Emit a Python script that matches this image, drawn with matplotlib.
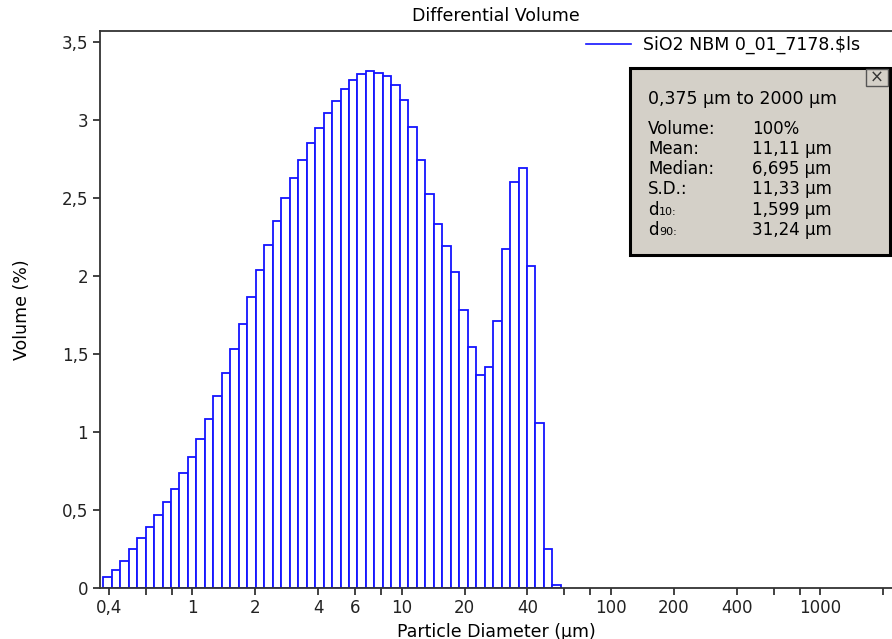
import numpy as np
import matplotlib.pyplot as plt
from matplotlib.lines import Line2D
from matplotlib.patches import Rectangle

# channel edges (um), LS 13 320 style log spacing
edges = [0.375, 0.412, 0.452, 0.496, 0.545, 0.598, 0.656, 0.721, 0.791, 0.868,
         0.953, 1.047, 1.149, 1.261, 1.385, 1.520, 1.669, 1.832, 2.011, 2.208,
         2.423, 2.660, 2.920, 3.206, 3.519, 3.863, 4.241, 4.656, 5.111, 5.611,
         6.159, 6.761, 7.422, 8.148, 8.944, 9.819, 10.78, 11.83, 12.99, 14.26,
         15.65, 17.18, 18.86, 20.71, 22.73, 24.95, 27.39, 30.07, 33.01, 36.24,
         39.78, 43.67, 47.94, 52.62, 57.77]

# differential volume (%) per channel
volume = [0.07, 0.116, 0.176, 0.251, 0.322, 0.393, 0.467, 0.551, 0.637, 0.736,
          0.837, 0.952, 1.084, 1.230, 1.377, 1.535, 1.695, 1.866, 2.035, 2.196,
          2.351, 2.497, 2.629, 2.743, 2.851, 2.951, 3.044, 3.121, 3.196, 3.258,
          3.297, 3.315, 3.303, 3.280, 3.226, 3.125, 2.956, 2.742, 2.527, 2.334,
          2.195, 2.026, 1.781, 1.543, 1.366, 1.419, 1.711, 2.174, 2.602, 2.694,
          2.062, 1.058, 0.253, 0.021]

xticks = [0.4, 1, 2, 4, 6, 10, 20, 40, 100, 200, 400, 1000]
xtick_labels = ['0,4', '1', '2', '4', '6', '10', '20', '40', '100', '200', '400', '1000']
xminor = [0.6, 0.8, 8, 60, 80, 600, 800, 2000]
yticks = [0, 0.5, 1, 1.5, 2, 2.5, 3, 3.5]
ytick_labels = ['0', '0,5', '1', '1,5', '2', '2,5', '3', '3,5']

series_name = 'SiO2 NBM 0_01_7178.$ls'
stats_header = '0,375 µm to 2000 µm'
stats_names = ['Volume:', 'Mean:', 'Median:', 'S.D.:', 'd', 'd']
stats_subs = ['', '', '', '', '10:', '90:']
stats_values = ['100%', '11,11 µm', '6,695 µm', '11,33 µm', '1,599 µm', '31,24 µm']

plt.rcParams['font.family'] = ['DejaVu Sans']
plt.rcParams['font.size'] = 12.5

W, H = 892, 639
fig = plt.figure(figsize=(W / 100, H / 100), dpi=100)
ax = fig.add_axes([100 / W, 1 - 588 / H, 1 - 100 / W, (588 - 31) / H])

left = np.array(edges[:-1])
width = np.diff(edges)
bar_col = '#1414ff'
ax.bar(left, volume, width=width, align='edge', facecolor='white',
       edgecolor=bar_col, linewidth=1.3)

ax.set_xscale('log')
ax.set_xlim(0.362, 2210)
ax.set_ylim(0, 3.57)
ax.set_xticks(xticks)
ax.set_xticklabels(xtick_labels)
ax.set_xticks(xminor, minor=True)
ax.set_xticklabels([], minor=True)
ax.set_yticks(yticks)
ax.set_yticklabels(ytick_labels)
ax.tick_params(axis='both', which='both', direction='out', length=5, width=1.3,
               color='#333333', labelcolor='#222222', labelsize=12)
ax.tick_params(axis='x', which='major', pad=3)

for side in ['left', 'bottom', 'top']:
    ax.spines[side].set_color('#333333')
    ax.spines[side].set_linewidth(1.3)
ax.spines['right'].set_visible(False)

ax.set_title('Differential Volume', fontsize=12.5, pad=7)
ax.set_xlabel('Particle Diameter (µm)', fontsize=12.5, labelpad=4)
ax.set_ylabel('Volume (%)', fontsize=12.5, labelpad=22)

# legend
fig.legend([Line2D([0], [0], color=bar_col, lw=1.2)], [series_name],
           loc='center left', bbox_to_anchor=(586 / W, 1 - 45 / H),
           frameon=False, handlelength=2.6, handletextpad=0.7, borderpad=0,
           borderaxespad=0, fontsize=12.5)

# stats box
def fx(px):
    return px / W

def fy(py):
    return 1 - py / H

box = Rectangle((fx(630), fy(255)), fx(890) - fx(630), fy(68) - fy(255),
                transform=fig.transFigure, facecolor='#d4d0c8',
                edgecolor='black', linewidth=2.2)
fig.add_artist(box)
close = Rectangle((fx(866), fy(86)), fx(888) - fx(866), fy(69) - fy(86),
                  transform=fig.transFigure, facecolor='#d4d0c8',
                  edgecolor='#555555', linewidth=1)
fig.add_artist(close)
fig.text(fx(877), fy(77.5), '×', ha='center', va='center', fontsize=12,
         color='#333333')

fig.text(fx(648), fy(99), stats_header, ha='left', va='center', fontsize=12.5)
for i, (name, sub, val) in enumerate(zip(stats_names, stats_subs, stats_values)):
    y = fy(133.5 + 20.3 * i)
    fig.text(fx(648), y, name, ha='left', va='baseline', fontsize=12)
    if sub:
        fig.text(fx(659), y, sub, ha='left', va='baseline', fontsize=8)
    fig.text(fx(752), y, val, ha='left', va='baseline', fontsize=12)

fig.savefig('out.png', dpi=100)
